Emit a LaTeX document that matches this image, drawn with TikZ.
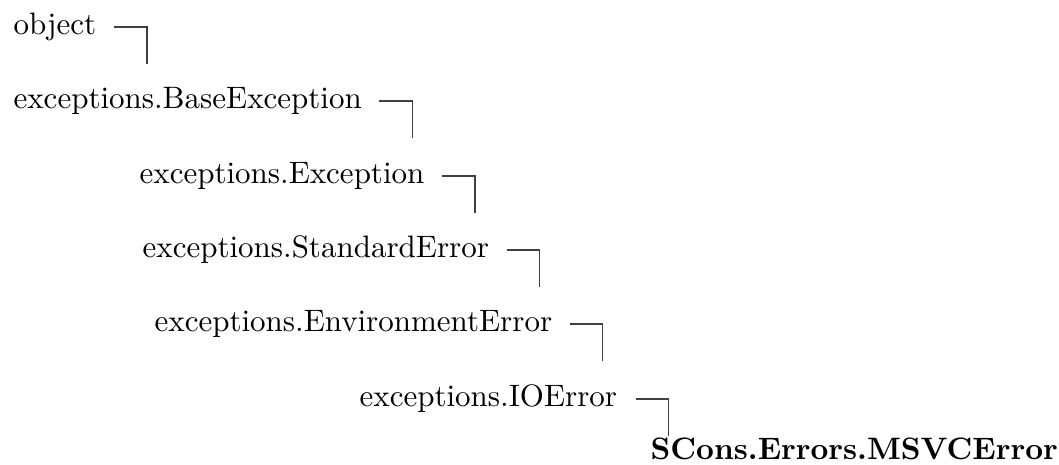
\documentclass[tikz,border=0pt]{standalone}
\usepackage{tikz}

\begin{document}
\begin{tikzpicture}[x=0.3226pt,y=-0.3226pt,
 cls/.style={inner sep=0pt,anchor=base west,font=\fontsize{10}{12}\selectfont},
 link/.style={line width=0.45pt,black!75}]
\useasboundingbox (0,0) rectangle (1059,464);
\node [cls] (obj) at (13,34) {object};
\node [cls] (base) at (13,108) {exceptions.BaseException};
\node [cls] (exc) at (139,183) {exceptions.Exception};
\node [cls] (std) at (142,257) {exceptions.StandardError};
\node [cls] (env) at (154,331) {exceptions.EnvironmentError};
\node [cls] (ioe) at (359,406) {exceptions.IOError};
\node [cls,font=\fontsize{10}{12}\selectfont\bfseries] (msvc) at (650,459) {SCons.Errors.MSVCError};
\draw [link] (obj.base east) ++(17,-7) -- ++(33,0) -- ++(0,37);
\draw [link] (base.base east) ++(17,-7) -- ++(33,0) -- ++(0,37);
\draw [link] (exc.base east) ++(17,-7) -- ++(33,0) -- ++(0,37);
\draw [link] (std.base east) ++(17,-7) -- ++(33,0) -- ++(0,37);
\draw [link] (env.base east) ++(17,-7) -- ++(33,0) -- ++(0,37);
\draw [link] (ioe.base east) ++(18,-7) -- ++(33,0) -- ++(0,37);
\end{tikzpicture}
\end{document}
